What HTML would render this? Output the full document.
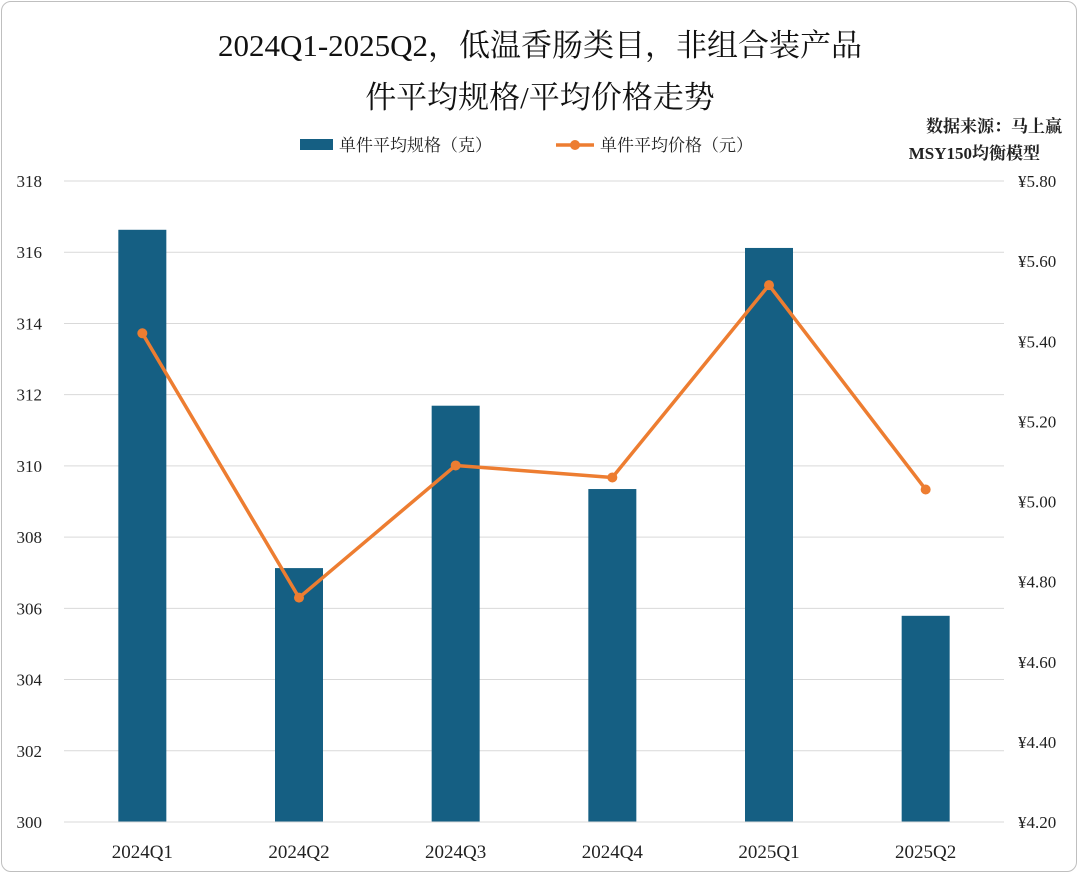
<!DOCTYPE html>
<html><head><meta charset="utf-8"><style>
body{margin:0;background:#fff;}
#wrap{position:relative;width:1080px;height:875px;overflow:hidden;}
#frame{position:absolute;left:1px;top:1px;width:1076px;height:871px;border:1px solid #bfbfbf;border-radius:10px;box-sizing:border-box;}
.t{position:absolute;left:0;width:1080px;text-align:center;font-family:"Liberation Serif","Noto Serif CJK SC",serif;font-size:31px;color:#111;}
svg text{font-family:"Liberation Serif","Noto Serif CJK SC",serif;}
</style></head><body>
<div id="wrap">
<div id="frame"></div>
<div class="t" style="top:20px">2024Q1-2025Q2，低温香肠类目，非组合装产品</div>
<div class="t" style="top:72px">件平均规格/平均价格走势</div>
<svg id="chart" width="1080" height="875" style="position:absolute;left:0;top:0"></svg>
</div>
<script>
const categories=["2024Q1","2024Q2","2024Q3","2024Q4","2025Q1","2025Q2"];
const sizeValues=[316.63,307.13,311.69,309.35,316.12,305.79];
const priceValues=[5.42,4.76,5.09,5.06,5.54,5.03];
const leftTicks=[300,302,304,306,308,310,312,314,316,318];
const rightTicks=[4.2,4.4,4.6,4.8,5.0,5.2,5.4,5.6,5.8];
const svg=document.getElementById('chart');
const NS='http://www.w3.org/2000/svg';
const X0=64,X1=1004,Y0=822,Y1=181;
const yL=v=>Y0-(v-300)/(318-300)*(Y0-Y1);
const yR=v=>Y0-(v-4.2)/(5.8-4.2)*(Y0-Y1);
const bw=(X1-X0)/categories.length;
const xC=i=>X0+bw*(i+0.5);
function mk(tag,attrs,parent){const e=document.createElementNS(NS,tag);for(const k in attrs)e.setAttribute(k,attrs[k]);(parent||svg).appendChild(e);return e;}
leftTicks.forEach((v,i)=>{
 const y=yL(v);
 const g=mk('line',{x1:X0,x2:X1,y1:y,y2:y,stroke:'#d9d9d9','stroke-width':1});
 
 
 const t=mk('text',{x:42,y:y+6,'text-anchor':'end','font-size':17,fill:'#222'});
 t.textContent=v;
 
 
});
rightTicks.forEach(v=>{
 const t=mk('text',{x:1018,y:yR(v)+6,'font-size':17,fill:'#222'});
 t.textContent='¥'+v.toFixed(2);
 
 
});
categories.forEach((c,i)=>{
 const y=yL(sizeValues[i]);
 const b=mk('rect',{x:xC(i)-24,y:y,width:48,height:Y0-y,fill:'#155f83'});
 
 
 const t=mk('text',{x:xC(i),y:858,'text-anchor':'middle','font-size':19,fill:'#222'});
 t.textContent=c;
 
 
});
const ax=mk('line',{x1:X0,x2:X1,y1:Y0,y2:Y0,stroke:'#d9d9d9','stroke-width':1});


const pl=mk('polyline',{points:priceValues.map((v,i)=>xC(i)+','+yR(v)).join(' '),fill:'none',stroke:'#ed7d31','stroke-width':3.5,'stroke-linejoin':'round'});


priceValues.forEach((v,i)=>{
 const p=mk('circle',{cx:xC(i),cy:yR(v),r:5,fill:'#ed7d31'});
 
 
});
// legend
const l1=mk('rect',{x:300,y:139,width:33,height:11,fill:'#155f83'});


const lt1=mk('text',{x:339,y:151,'font-size':17,fill:'#222'});
lt1.textContent='单件平均规格（克）';


const l2=mk('line',{x1:556,x2:594,y1:145,y2:145,stroke:'#ed7d31','stroke-width':3.5});


const l2c=mk('circle',{cx:575,cy:145,r:5,fill:'#ed7d31'});


const lt2=mk('text',{x:600,y:151,'font-size':17,fill:'#222'});
lt2.textContent='单件平均价格（元）';


const s1=mk('text',{x:1062,y:132,'text-anchor':'end','font-size':17,'font-weight':'bold',fill:'#222'});
s1.textContent='数据来源：马上赢';


const s2=mk('text',{x:1040,y:159,'text-anchor':'end','font-size':17,'font-weight':'bold',fill:'#222'});
s2.textContent='MSY150均衡模型';


</script>
</body></html>
